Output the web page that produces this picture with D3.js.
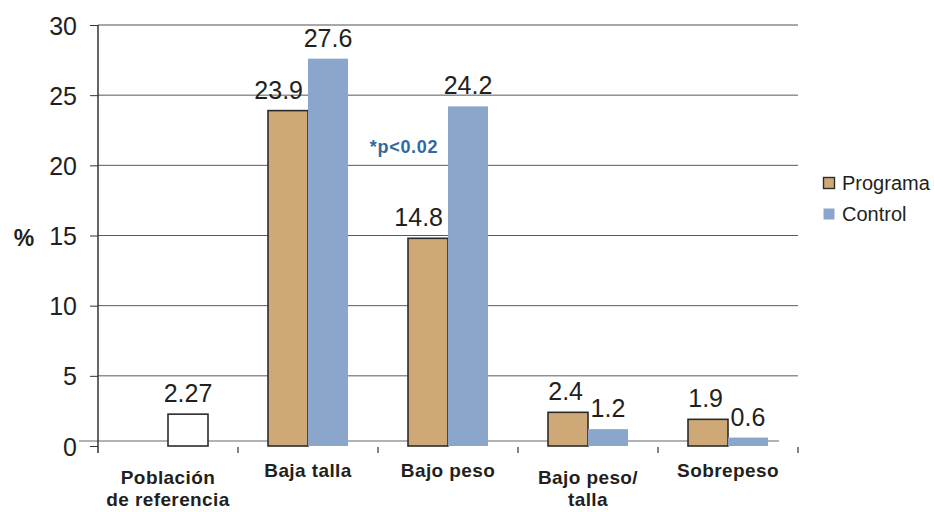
<!DOCTYPE html>
<html><head><meta charset="utf-8">
<script src="https://cdn.jsdelivr.net/npm/d3@7"></script>
<style>
html,body{margin:0;padding:0;background:#fff;}
svg{display:block;font-family:"Liberation Sans",Arial,sans-serif;}
</style></head>
<body>
<script>
const categories = ["Población de referencia","Baja talla","Bajo peso","Bajo peso/ talla","Sobrepeso"];
const categoryLines = [["Población","de referencia"],["Baja talla"],["Bajo peso"],["Bajo peso/","talla"],["Sobrepeso"]];
const programa = [null, 23.9, 14.8, 2.4, 1.9];
const control = [null, 27.6, 24.2, 1.2, 0.6];
const referencia = [2.27, null, null, null, null];
const yTicks = [0,5,10,15,20,25,30];
const seriesNames = ["Programa","Control"];
const note = "*p<0.02";

const W=934,H=512;
const svg=d3.select("body").append("svg").attr("width",W).attr("height",H);
const textColor="#231f20", progColor="#cfa877", ctrlColor="#8aa7cb";

const x=d3.scaleBand().domain(categories).range([98,798]).paddingInner(0).paddingOuter(0);
const y=d3.scaleLinear().domain([0,30]).range([446,25]);
const barW=40;

// gridlines
svg.append("g").selectAll("line").data(yTicks.filter(t=>t>0&&t<30)).join("line")
  .attr("x1",98).attr("x2",798).attr("y1",d=>y(d)).attr("y2",d=>y(d))
  .attr("stroke","#5a5a5a").attr("stroke-width",1);
svg.append("line").attr("x1",98).attr("x2",798).attr("y1",y(30)).attr("y2",y(30))
  .attr("stroke","#a8a8a8").attr("stroke-width",2);
svg.append("line").attr("x1",79).attr("x2",779).attr("y1",y(0)-5).attr("y2",y(0)-5)
  .attr("stroke","#9a9a9a").attr("stroke-width",1.5);

// y axis
const yAxis=d3.axisLeft(y).tickValues(yTicks).tickSize(8).tickPadding(13).tickFormat(d3.format("d"));
const ga=svg.append("g").attr("transform","translate(98,0)").call(yAxis);
ga.select(".domain").remove();
ga.selectAll(".tick line").attr("stroke","#333").attr("stroke-width",1);
ga.selectAll(".tick text").attr("fill",textColor).style("font-size","25px").attr("font-family","Liberation Sans, Arial, sans-serif").attr("dy","0.36em");
svg.append("line").attr("x1",98).attr("x2",98).attr("y1",y(30)).attr("y2",453).attr("stroke","#333").attr("stroke-width",1.5);

// x ticks at boundaries
const bounds=categories.map(c=>x(c)).concat([x.range()[1]]);
svg.append("g").selectAll("line").data(bounds.slice(1)).join("line")
  .attr("x1",d=>d).attr("x2",d=>d).attr("y1",447).attr("y2",453).attr("stroke","#333").attr("stroke-width",1.2);

// bars
const cx=c=>x(c)+x.bandwidth()/2;
const labelLayer=[];
function drawSeries(vals,offset,fill,stroke,clampRight){
  const data=categories.map((c,i)=>({c,v:vals[i]})).filter(d=>d.v!=null);
  svg.append("g").selectAll("rect").data(data).join("rect")
    .attr("x",d=>cx(d.c)+offset).attr("width",barW)
    .attr("y",d=>y(d.v)).attr("height",d=>y(0)-y(d.v))
    .attr("fill",fill).attr("stroke",stroke||"none").attr("stroke-width",stroke?1.6:0);
  labelLayer.push({data,offset,clampRight});
}
drawSeries(programa,-barW,progColor,"#2b2b2b",true);
drawSeries(control,0,ctrlColor,null,false);
drawSeries(referencia,0,"#fff","#2b2b2b",false);
labelLayer.forEach(({data,offset,clampRight})=>{
  svg.append("g").selectAll("text").data(data).join("text")
    .attr("x",d=>cx(d.c)+offset+barW/2).attr("y",d=>y(d.v)-12)
    .attr("text-anchor","middle").attr("fill",textColor).style("font-size","25px")
    .text(d=>d.v)
    .each(function(d){
      if(!clampRight) return;
      const w=this.getComputedTextLength();
      const right=cx(d.c)+offset+barW-5;
      const c0=cx(d.c)+offset+barW/2;
      if(c0+w/2>right) d3.select(this).attr("x",right-w/2);
    });
});

// category labels
categories.forEach((c,i)=>{
  const lines=categoryLines[i];
  const y0=lines.length>1?484:477;
  const t=svg.append("text").attr("text-anchor","middle").attr("fill",textColor)
    .style("font-size","19px").style("font-weight","bold").style("letter-spacing","0.4px");
  lines.forEach((l,j)=>t.append("tspan").attr("x",cx(c)).attr("y",y0+j*22).text(l));
});

// % label
svg.append("text").attr("x",24).attr("y",246).attr("text-anchor","middle").attr("fill",textColor)
  .style("font-size","23px").style("font-weight","bold").text("%");

// note
svg.append("text").attr("x",404).attr("y",153).attr("text-anchor","middle").attr("fill","#2e6aa0")
  .style("font-size","18px").style("font-weight","bold").style("letter-spacing","0.7px").text(note);

// legend
const lg=svg.append("g");
[[progColor,"#2b2b2b"],[ctrlColor,null]].forEach((col,i)=>{
  const yy=177+i*31;
  lg.append("rect").attr("x",823.5).attr("y",yy+0.5).attr("width",11).attr("height",11)
    .attr("fill",col[0]).attr("stroke",col[1]||"none").attr("stroke-width",1.4);
  lg.append("text").attr("x",842).attr("y",yy+13).attr("fill",textColor).style("font-size","20px").text(seriesNames[i]);
});
</script>
</body></html>
